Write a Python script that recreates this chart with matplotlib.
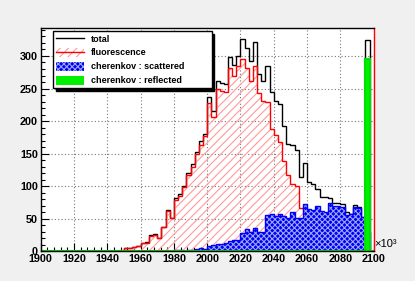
import numpy as np
import matplotlib
matplotlib.use('Agg')
import matplotlib.pyplot as plt
from matplotlib.patches import Patch
from matplotlib.lines import Line2D

# 80 bins of 2.5 (x axis in units of 10^3)
edges = np.linspace(1900, 2100, 81)

total = [0, 0, 0, 0, 0, 1, 0, 0, 0, 0, 0, 0, 0, 0, 0, 0,
         1, 1, 1, 1, 6, 5, 7, 8, 13, 14, 25, 27, 20, 37, 64, 52,
         82, 88, 100, 121, 134, 153, 169, 181, 237, 216, 262, 258,
         257, 298, 286, 300, 326, 312, 292, 321, 273, 261, 285, 245,
         231, 226, 193, 165, 163, 155, 115, 136, 106, 103, 96, 83,
         83, 82, 75, 75, 73, 60, 58, 72, 69, 53, 325, 0]
fluorescence = [0, 0, 0, 0, 0, 1, 0, 0, 0, 0, 0, 0, 0, 0, 0, 0,
                1, 1, 1, 1, 6, 5, 7, 8, 13, 13, 24, 25, 20, 37, 62, 51,
                79, 85, 99, 117, 130, 149, 163, 177, 228, 206, 250, 246,
                244, 282, 270, 285, 296, 282, 262, 284, 243, 231, 229, 188,
                178, 168, 139, 118, 104, 101, 66, 63, 42, 40, 27, 21,
                20, 9, 6, 5, 4, 3, 1, 3, 2, 0, 0, 0]
scattered = [0, 0, 0, 0, 0, 0, 0, 0, 0, 0, 0, 0, 0, 0, 0, 0,
             0, 0, 0, 0, 0, 0, 0, 0, 0, 0, 1, 0, 0, 0, 0, 1,
             3, 3, 0, 2, 3, 4, 6, 4, 9, 10, 12, 11,
             13, 16, 17, 18, 28, 35, 30, 36, 30, 30, 56, 57,
             54, 57, 55, 52, 60, 52, 51, 73, 65, 63, 70, 62,
             61, 75, 70, 70, 69, 56, 58, 69, 67, 53, 30, 0]
reflected = [0] * 78 + [295, 0]

labels = ['total', 'fluorescence', 'cherenkov : scattered', 'cherenkov : reflected']

plt.rcParams['font.family'] = ['Liberation Sans', 'DejaVu Sans']
plt.rcParams['hatch.linewidth'] = 0.8

fig = plt.figure(figsize=(4.15, 2.81), dpi=100, facecolor='#f0f0f0')
ax = fig.add_axes([0.098, 0.105, 0.8025, 0.794])
ax.set_facecolor('white')

# total
ax.stairs(total, edges, color='black', lw=1, baseline=0)
# fluorescence: hatched fill + red outline
ax.stairs(fluorescence, edges, fill=True, facecolor='none', edgecolor='#ff9a9a',
          hatch='////', lw=0, baseline=0)
ax.stairs(fluorescence, edges, color='red', lw=1, baseline=0)
# cherenkov scattered
ax.stairs(scattered, edges, fill=True, facecolor='#0000f0', edgecolor='#9aa6ff',
          hatch='xxxxxx', lw=0, baseline=0)
ax.stairs(scattered, edges, color='#0000ff', lw=1, baseline=0)
# cherenkov reflected
ax.stairs(reflected, edges, fill=True, facecolor='#00f000', edgecolor='none', baseline=0)
ax.stairs(reflected, edges, color='#00e000', lw=1.5, baseline=0)

ax.set_xlim(1900, 2100)
ax.set_ylim(0, 1.05 * max(total))

ax.set_xticks(np.arange(1900, 2101, 20))
ax.set_xticks(np.arange(1900, 2101, 4), minor=True)
ax.set_yticks(np.arange(0, 301, 50))
ax.set_yticks(np.arange(0, 341, 10), minor=True)
ax.tick_params(which='both', direction='in', top=False, right=False,
               labelsize=7.8, width=0.8)
ax.tick_params(which='major', length=6)
ax.tick_params(which='minor', length=3)
ax.tick_params(axis='x', pad=2)
ax.tick_params(axis='y', pad=2)
for lab in ax.get_xticklabels() + ax.get_yticklabels():
    lab.set_fontweight('bold')

ax.grid(True, which='major', linestyle=(0, (1, 2)), color='#777777', lw=0.8)
ax.set_axisbelow(True)
for s in ax.spines.values():
    s.set_linewidth(1)
ax.spines['right'].set_color('red')

fig.text(374 / 415, 1 - 244 / 281, '×10³', ha='left', va='center', fontsize=8)

handles = [
    Line2D([], [], color='black', lw=1),
    (Patch(facecolor='white', edgecolor='#ff9a9a', hatch='////', lw=0),
     Line2D([], [], color='red', lw=1)),
    Patch(facecolor='#0000f0', edgecolor='#9aa6ff', hatch='xxxxxx', lw=0),
    Patch(facecolor='#00f000', edgecolor='none'),
]
leg = ax.legend(handles, labels, loc='upper left',
                bbox_to_anchor=(53.3 / 415, 1 - 31 / 281, (211.7 - 53.3) / 415, 0),
                bbox_transform=fig.transFigure, mode='expand', borderaxespad=0,
                prop={'size': 6.5, 'weight': 'bold'}, fancybox=False,
                shadow={'color': 'black', 'alpha': 1}, framealpha=1,
                edgecolor='black', borderpad=0.35, labelspacing=0.5,
                handlelength=3.1, handleheight=1.1, handletextpad=0.7)
leg.get_frame().set_linewidth(1)

fig.savefig('out.png', dpi=100, facecolor=fig.get_facecolor())
